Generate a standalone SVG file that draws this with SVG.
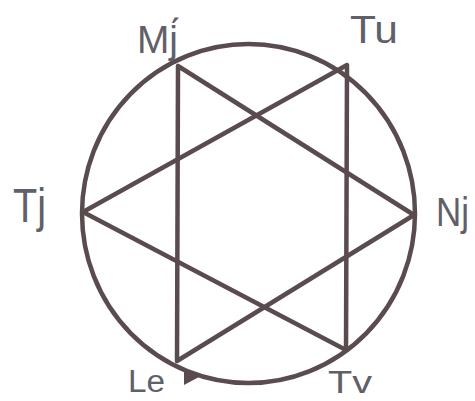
<svg xmlns="http://www.w3.org/2000/svg" width="475" height="401" viewBox="0 0 475 401">
<style>
.ln{fill:none;stroke:#5a4b4f;stroke-width:4.5;stroke-linecap:round;stroke-linejoin:round}
.lb{font-family:"Liberation Sans","DejaVu Sans",sans-serif;fill:#606068}
</style>
<rect width="475" height="401" fill="#ffffff"/>
<g id="circle">
<ellipse class="ln" cx="248.5" cy="213.5" rx="166.5" ry="169.5"/>
<polygon points="184,370 184,385 199,377" fill="#5a4b4f"/>
</g>
<g id="connectors">
<polyline class="ln" points="83,212 347,65 346,350 83,212"/>
<polyline class="ln" points="178,66 414,215 177,361 178,66"/>
</g>
<g id="node-Mj"><text class="lb" x="137" y="53" font-size="38" textLength="41" lengthAdjust="spacingAndGlyphs">Mj́</text></g>
<g id="node-Tu"><text class="lb" x="350" y="43" font-size="38" textLength="48" lengthAdjust="spacingAndGlyphs">Tu</text></g>
<g id="node-Tj"><text class="lb" x="13" y="222" font-size="48" textLength="33" lengthAdjust="spacingAndGlyphs">Tj</text></g>
<g id="node-Nj"><text class="lb" x="436" y="226" font-size="40" textLength="33" lengthAdjust="spacingAndGlyphs">Nj</text></g>
<g id="node-Le"><text class="lb" x="128" y="392" font-size="31" textLength="37" lengthAdjust="spacingAndGlyphs">Le</text></g>
<g id="node-Tv"><text class="lb" x="328" y="393" font-size="32" textLength="44" lengthAdjust="spacingAndGlyphs">Tv</text></g>
</svg>
